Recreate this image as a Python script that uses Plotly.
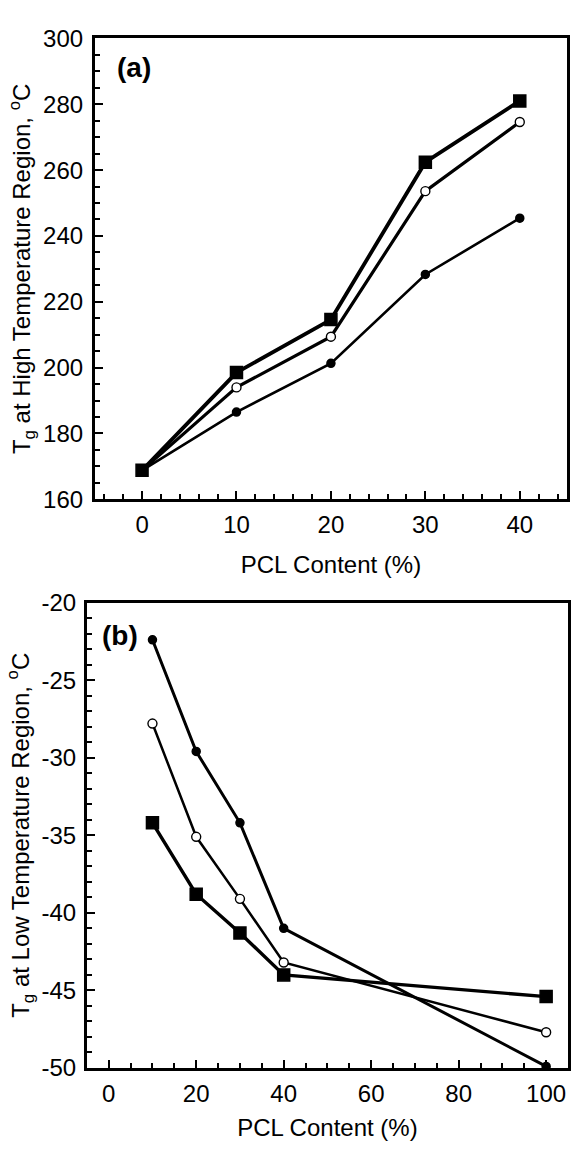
import plotly.graph_objects as go

# Panel (a): Tg at the high temperature region vs PCL content
pcl_a = [0, 10, 20, 30, 40]
high_square = [168.8, 198.5, 214.6, 262.4, 281.0]
high_open = [168.8, 194.0, 209.4, 253.6, 274.6]
high_dot = [168.8, 186.5, 201.3, 228.3, 245.4]

# Panel (b): Tg at the low temperature region vs PCL content
pcl_b = [10, 20, 30, 40, 100]
low_square = [-34.2, -38.8, -41.3, -44.0, -45.4]
low_open = [-27.8, -35.1, -39.1, -43.2, -47.7]
low_dot = [-22.4, -29.6, -34.2, -41.0, -49.9]

# tick values / labels for the low-temperature axis (plain hyphen minus)
low_ticks = [-50, -45, -40, -35, -30, -25, -20]
low_tick_text = ["-50", "-45", "-40", "-35", "-30", "-25", "-20"]

FONT = "Liberation Sans, Arial, sans-serif"
BLACK = "#000000"

fig = go.Figure()


def add_series(x, y, xa, ya, symbol, size, lw, fill, mlw=1.5):
    fig.add_trace(go.Scatter(
        x=x, y=y, xaxis=xa, yaxis=ya, mode="lines+markers",
        line=dict(color=BLACK, width=lw),
        marker=dict(symbol=symbol, size=size, color=fill,
                    line=dict(color=BLACK, width=mlw)),
        showlegend=False, hoverinfo="x+y",
    ))


# top panel
add_series(pcl_a, high_dot, "x", "y", "circle", 8, 2.6, BLACK)
add_series(pcl_a, high_open, "x", "y", "circle", 9, 3.2, "white", 1.4)
add_series(pcl_a, high_square, "x", "y", "square", 12, 3.8, BLACK)

# bottom panel
add_series(pcl_b, low_dot, "x2", "y2", "circle", 8, 3.0, BLACK)
add_series(pcl_b, low_open, "x2", "y2", "circle", 9, 2.5, "white", 1.4)
add_series(pcl_b, low_square, "x2", "y2", "square", 12, 3.4, BLACK)

W, H = 571, 1150

axis_common = dict(
    showline=True, linecolor=BLACK, linewidth=2.8, mirror=True,
    ticks="inside", ticklen=8, tickwidth=2, tickcolor=BLACK,
    showgrid=False, zeroline=False,
    tickfont=dict(family=FONT, size=24, color=BLACK),
    title_font=dict(family=FONT, size=24, color=BLACK),
)
minor_common = dict(ticks="inside", ticklen=5, tickwidth=1.8, tickcolor=BLACK, showgrid=False)

fig.update_layout(
    width=W, height=H,
    margin=dict(l=0, r=0, t=0, b=0),
    paper_bgcolor="white", plot_bgcolor="white",
    font=dict(family=FONT, color=BLACK),
    xaxis=dict(domain=[95 / W, 568 / W], range=[-5, 45], anchor="y",
               tick0=0, dtick=10, minor=dict(dtick=2, **minor_common),
               ticklabelstandoff=2,
               title=dict(text="PCL Content (%)", standoff=20),
               **axis_common),
    yaxis=dict(domain=[1 - 497 / H, 1 - 25 / H], range=[160, 300], anchor="x",
               tick0=160, dtick=20, minor=dict(dtick=5, **minor_common),
               ticklabelstandoff=4,
               title=dict(text="T<sub>g</sub> at High Temperature Region, <sup>o</sup>C", standoff=6),
               **axis_common),
    xaxis2=dict(domain=[87 / W, 569 / W], range=[-5, 105], anchor="y2",
                tick0=0, dtick=20, minor=dict(dtick=5, **minor_common),
                ticklabelstandoff=2,
                title=dict(text="PCL Content (%)", standoff=14),
                **axis_common),
    yaxis2=dict(domain=[1 - 1079.3 / H, 1 - 602.7 / H], range=[-50, -20], anchor="x2",
                tickmode="array", tickvals=low_ticks, ticktext=low_tick_text,
                minor=dict(dtick=1, **minor_common),
                ticklabelstandoff=3,
                title=dict(text="T<sub>g</sub> at Low Temperature Region, <sup>o</sup>C", standoff=6),
                **axis_common),
    annotations=[
        dict(text="<b>(a)</b>", x=134 / W, y=1 - 55 / H, xref="paper", yref="paper",
             xanchor="center", yanchor="middle",
             showarrow=False, font=dict(family=FONT, size=28, color=BLACK)),
        dict(text="<b>(b)</b>", x=120 / W, y=1 - 636 / H, xref="paper", yref="paper",
             xanchor="center", yanchor="middle",
             showarrow=False, font=dict(family=FONT, size=28, color=BLACK)),
    ],
)

fig.write_html("out.html")
